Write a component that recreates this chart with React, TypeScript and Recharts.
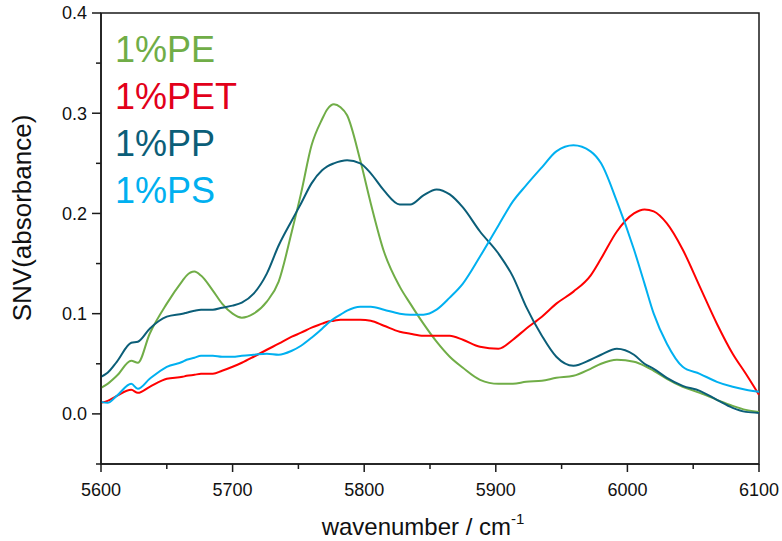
import React from 'react';
import { LineChart, Line, XAxis, YAxis, ReferenceArea } from 'recharts';

const wavenumbers = [5600, 5605, 5612, 5623, 5628, 5637, 5650, 5662, 5665, 5671, 5676, 5685, 5692, 5700, 5707, 5716, 5726, 5735, 5745, 5752, 5760, 5768, 5772, 5777, 5782, 5787, 5797, 5805, 5815, 5827, 5835, 5845, 5855, 5865, 5875, 5888, 5902, 5913, 5923, 5935, 5946, 5959, 5972, 5980, 5992, 6005, 6013, 6020, 6030, 6042, 6055, 6068, 6080, 6090, 6100];

const pe = [0.026, 0.030, 0.038, 0.053, 0.051, 0.080, 0.110, 0.133, 0.138, 0.142, 0.138, 0.123, 0.110, 0.100, 0.096, 0.100, 0.112, 0.132, 0.182, 0.220, 0.268, 0.294, 0.304, 0.309, 0.306, 0.298, 0.253, 0.210, 0.162, 0.127, 0.110, 0.090, 0.072, 0.057, 0.046, 0.034, 0.030, 0.030, 0.032, 0.033, 0.036, 0.038, 0.045, 0.050, 0.054, 0.052, 0.048, 0.043, 0.035, 0.027, 0.021, 0.014, 0.008, 0.004, 0.002];

const pet = [0.011, 0.013, 0.018, 0.024, 0.021, 0.027, 0.035, 0.037, 0.038, 0.039, 0.040, 0.040, 0.043, 0.047, 0.051, 0.057, 0.064, 0.070, 0.077, 0.081, 0.086, 0.090, 0.092, 0.093, 0.094, 0.094, 0.094, 0.093, 0.088, 0.082, 0.080, 0.078, 0.078, 0.078, 0.074, 0.067, 0.065, 0.074, 0.085, 0.097, 0.110, 0.122, 0.138, 0.155, 0.182, 0.200, 0.204, 0.202, 0.190, 0.164, 0.127, 0.090, 0.060, 0.040, 0.019];

const pp = [0.037, 0.041, 0.052, 0.071, 0.072, 0.085, 0.097, 0.100, 0.101, 0.103, 0.104, 0.104, 0.106, 0.108, 0.111, 0.120, 0.140, 0.168, 0.193, 0.210, 0.230, 0.243, 0.247, 0.250, 0.252, 0.253, 0.250, 0.240, 0.223, 0.209, 0.209, 0.218, 0.224, 0.219, 0.206, 0.182, 0.160, 0.137, 0.107, 0.078, 0.057, 0.048, 0.054, 0.059, 0.065, 0.059, 0.050, 0.045, 0.036, 0.028, 0.023, 0.014, 0.006, 0.002, 0.001];

const ps = [0.012, 0.011, 0.018, 0.030, 0.025, 0.035, 0.047, 0.052, 0.054, 0.056, 0.058, 0.058, 0.057, 0.057, 0.058, 0.059, 0.060, 0.059, 0.063, 0.068, 0.076, 0.085, 0.090, 0.095, 0.099, 0.103, 0.107, 0.107, 0.104, 0.100, 0.099, 0.099, 0.104, 0.116, 0.130, 0.157, 0.188, 0.212, 0.228, 0.246, 0.262, 0.268, 0.262, 0.250, 0.212, 0.164, 0.130, 0.100, 0.070, 0.047, 0.040, 0.032, 0.027, 0.024, 0.022];

const seriesNames = ['1%PE', '1%PET', '1%PP', '1%PS'];
const lineColors = ['#70AD47', '#FF0000', '#0B5E78', '#00B0F0'];
const textColors = ['#70AD47', '#E2001A', '#0B5E78', '#00B0F0'];

const xTicks = [5600, 5650, 5700, 5750, 5800, 5850, 5900, 5950, 6000, 6050, 6100];
const yTicks = [-0.05, 0, 0.05, 0.1, 0.15, 0.2, 0.25, 0.3, 0.35, 0.4];

const xTitle = 'wavenumber / cm';
const xTitleSup = '-1';
const yTitle = 'SNV(absorbance)';

const keys = ['pe', 'pet', 'pp', 'ps'];
const seriesValues = [pe, pet, pp, ps];

const data = wavenumbers.map((w, i) => {
  const row: Record<string, number> = { w };
  keys.forEach((k, j) => { row[k] = seriesValues[j][i]; });
  return row;
});

const FONT = '"Liberation Sans", Arial, sans-serif';
const AXIS = '#1a1a1a';

const YTick = (props: any) => {
  const { x, y, payload } = props;
  const v = payload.value as number;
  const major = Math.abs(v * 10 - Math.round(v * 10)) < 1e-6;
  return (
    <g>
      <line x1={x - (major ? 9 : 5)} x2={x} y1={y} y2={y} stroke={AXIS} strokeWidth={1.5} />
      {major && (
        <text x={x - 14} y={y} dy="0.36em" textAnchor="end" fontSize={18} fontFamily={FONT} fill="#111">
          {v.toFixed(1)}
        </text>
      )}
    </g>
  );
};

const XTick = (props: any) => {
  const { x, y, payload } = props;
  const v = payload.value as number;
  const major = v % 100 === 0;
  return (
    <g>
      <line x1={x} x2={x} y1={y} y2={y + (major ? 8 : 5)} stroke={AXIS} strokeWidth={1.5} />
      {major && (
        <text x={x} y={y + 19} dy="0.71em" textAnchor="middle" fontSize={18} fontFamily={FONT} fill="#111">
          {v}
        </text>
      )}
    </g>
  );
};

export default function App() {
  return (
    <div style={{ position: 'absolute', left: 0, top: 0, width: 782, height: 541, background: '#fff' }}>
      <LineChart
        width={782}
        height={541}
        data={data}
        margin={{ top: 13, right: 23, bottom: 17, left: 0 }}
      >
        <XAxis
          dataKey="w"
          type="number"
          domain={[5600, 6100]}
          ticks={xTicks}
          height={60}
          tickSize={0}
          tickMargin={0}
          tick={<XTick />}
          axisLine={{ stroke: AXIS, strokeWidth: 1.5 }}
          tickLine={false}
          interval={0}
        />
        <YAxis
          type="number"
          domain={[-0.05, 0.4]}
          ticks={yTicks}
          width={101}
          tickSize={0}
          tickMargin={0}
          tick={<YTick />}
          axisLine={{ stroke: AXIS, strokeWidth: 1.5 }}
          tickLine={false}
          interval={0}
        />
        <ReferenceArea x1={5600} x2={6100} y1={-0.05} y2={0.4} fill="none" stroke={AXIS} strokeWidth={1.5} />
        {keys.map((k, i) => (
          <Line
            key={k}
            dataKey={k}
            name={seriesNames[i]}
            type="monotone"
            stroke={lineColors[i]}
            strokeWidth={2}
            dot={false}
            activeDot={false}
            isAnimationActive={false}
          />
        ))}
      </LineChart>
      <svg width={782} height={541} style={{ position: 'absolute', left: 0, top: 0, pointerEvents: 'none' }}>
        {seriesNames.map((n, i) => (
          <text key={n} x={115} y={62 + i * 47} fontSize={36} fontFamily={FONT} fill={textColors[i]}>
            {n}
          </text>
        ))}
        <text x={31} y={218} transform="rotate(-90, 31, 218)" textAnchor="middle" fontSize={26} fontFamily={FONT} fill="#111">
          {yTitle}
        </text>
        <text x={423} y={535} textAnchor="middle" fontSize={24} fontFamily={FONT} fill="#111">
          {xTitle}
          <tspan dy={-11} fontSize={15}>{xTitleSup}</tspan>
        </text>
      </svg>
    </div>
  );
}
